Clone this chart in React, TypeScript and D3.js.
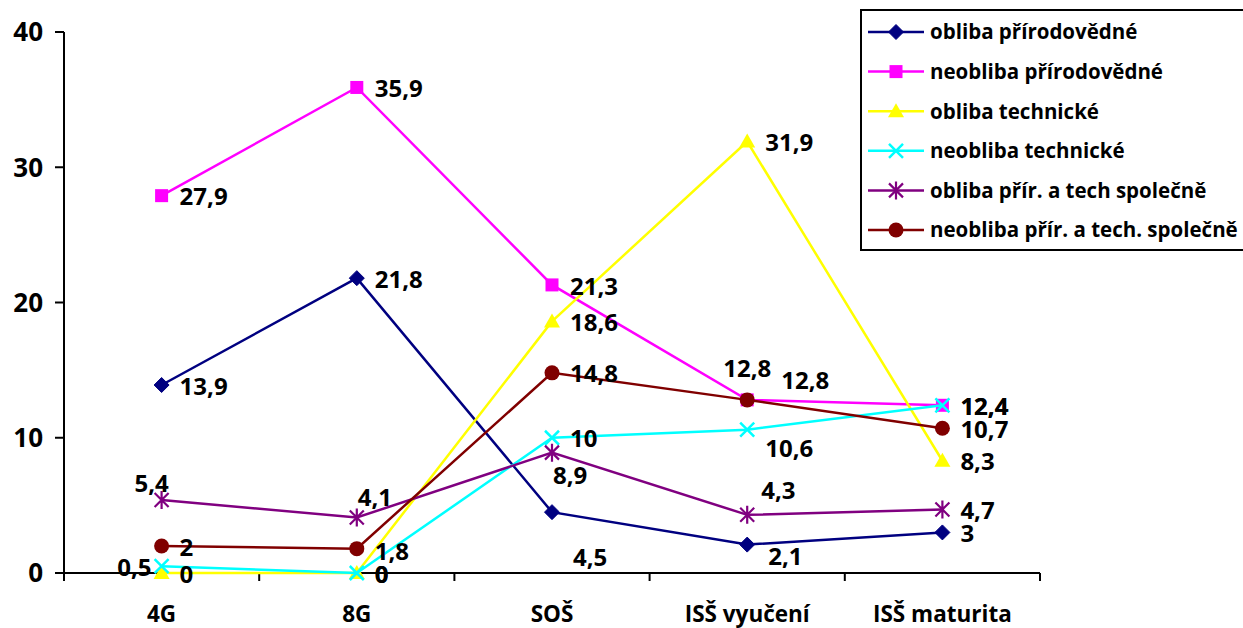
import React from "react";
import * as d3 from "d3";

const categories = ["4G", "8G", "SOŠ", "ISŠ vyučení", "ISŠ maturita"];
const yTicks = [0, 10, 20, 30, 40];

const seriesNames = [
  "obliba přírodovědné",
  "neobliba přírodovědné",
  "obliba technické",
  "neobliba technické",
  "obliba přír. a tech společně",
  "neobliba přír. a tech. společně",
];
const oblibaPrir = [13.9, 21.8, 4.5, 2.1, 3];
const neoblibaPrir = [27.9, 35.9, 21.3, 12.8, 12.4];
const oblibaTech = [0, 0, 18.6, 31.9, 8.3];
const neoblibaTech = [0.5, 0, 10, 10.6, 12.4];
const oblibaSpol = [5.4, 4.1, 8.9, 4.3, 4.7];
const neoblibaSpol = [2, 1.8, 14.8, 12.8, 10.7];

const seriesValues = [oblibaPrir, neoblibaPrir, oblibaTech, neoblibaTech, oblibaSpol, neoblibaSpol];
const colors = ["#000080", "#FF00FF", "#FFFF00", "#00FFFF", "#800080", "#800000"];
const markers = ["diamond", "square", "triangle", "x", "star", "circle"];

// label offsets [dx, dy, anchor] per series / point (style only)
type Off = [number, number, string];
const R: Off = [18, 1, "start"];
const labelOffsets: Off[][] = [
  [R, R, [21, 45, "start"], [21, 12, "start"], R],
  [R, R, R, [0, -32, "middle"], R],
  [R, R, R, R, R],
  [[-10, 1, "end"], R, R, [18, 19, "start"], R],
  [[-10, -17, "middle"], [1, -20, "start"], [1, 23, "start"], [14, -24, "start"], R],
  [R, [18, 3, "start"], R, [34, -20, "start"], R],
];

const FONT = "'Open Sans', 'Noto Sans', sans-serif";

function Marker({ type, x, y, color }: { type: string; x: number; y: number; color: string }) {
  switch (type) {
    case "diamond":
      return <path d={`M${x},${y - 7.5}L${x + 7.5},${y}L${x},${y + 7.5}L${x - 7.5},${y}Z`} fill={color} stroke={color} />;
    case "square":
      return <rect x={x - 6.5} y={y - 6.5} width={13} height={13} fill={color} />;
    case "triangle":
      return <path d={`M${x},${y - 8}L${x + 8},${y + 6}L${x - 8},${y + 6}Z`} fill={color} />;
    case "x":
      return (
        <path d={`M${x - 7},${y - 7}L${x + 7},${y + 7}M${x - 7},${y + 7}L${x + 7},${y - 7}`} stroke={color} strokeWidth={2.5} />
      );
    case "star":
      return (
        <path
          d={`M${x - 7},${y - 7}L${x + 7},${y + 7}M${x - 7},${y + 7}L${x + 7},${y - 7}M${x},${y - 9}L${x},${y + 9}`}
          stroke={color}
          strokeWidth={2.2}
        />
      );
    default:
      return <circle cx={x} cy={y} r={7.5} fill={color} />;
  }
}

export default function App() {
  const W = 1243;
  const H = 628;
  const x = d3.scaleBand<string>().domain(categories).range([64, 1040]);
  const y = d3.scaleLinear().domain([0, 40]).range([573, 32]);
  const cx = (c: string) => (x(c) as number) + x.bandwidth() / 2;
  const line = d3
    .line<number>()
    .x((_, i) => cx(categories[i]))
    .y((v) => y(v));

  const boundaries = categories.map((c) => x(c) as number).concat([1040]);

  return (
    <svg width={W} height={H} style={{ position: "absolute", left: 0, top: 0, background: "#fff" }} fontFamily={FONT}>
      <rect width={W} height={H} fill="#fff" />
      {/* axes */}
      <line x1={64} y1={y(40)} x2={64} y2={y(0)} stroke="#000" strokeWidth={2} />
      <line x1={64} y1={y(0)} x2={1040} y2={y(0)} stroke="#000" strokeWidth={2} />
      {yTicks.map((t) => (
        <g key={t}>
          <line x1={55} x2={64} y1={y(t)} y2={y(t)} stroke="#000" strokeWidth={2} />
          <text x={43} y={y(t)} dy="0.36em" textAnchor="end" fontSize={26} fontWeight="bold">
            {t}
          </text>
        </g>
      ))}
      {boundaries.map((b, i) => (
        <line key={i} x1={b} x2={b} y1={y(0)} y2={y(0) + 8} stroke="#000" strokeWidth={2} />
      ))}
      {categories.map((c) => (
        <text key={c} x={cx(c)} y={614} dy="0.36em" textAnchor="middle" fontSize={22.5} fontWeight="bold">
          {c}
        </text>
      ))}
      {/* series */}
      {seriesValues.map((vals, si) => (
        <g key={si}>
          <path d={line(vals) || ""} fill="none" stroke={colors[si]} strokeWidth={2.5} />
          {vals.map((v, i) => (
            <Marker key={i} type={markers[si]} x={cx(categories[i])} y={y(v)} color={colors[si]} />
          ))}
        </g>
      ))}
      {/* labels */}
      {seriesValues.map((vals, si) =>
        vals.map((v, i) => {
          const [dx, dy, anchor] = labelOffsets[si][i];
          return (
            <text
              key={`${si}-${i}`}
              x={cx(categories[i]) + dx}
              y={y(v) + dy}
              dy="0.36em"
              textAnchor={anchor as any}
              fontSize={24}
              fontWeight="bold"
            >
              {String(v).replace(".", ",")}
            </text>
          );
        })
      )}
      {/* legend */}
      <rect x={861} y={10} width={400} height={240} fill="#fff" stroke="#000" strokeWidth={2} />
      {seriesNames.map((n, i) => {
        const ly = 32 + i * 39.6;
        return (
          <g key={n}>
            <line x1={868} x2={924} y1={ly} y2={ly} stroke={colors[i]} strokeWidth={2.5} />
            <Marker type={markers[i]} x={896} y={ly} color={colors[i]} />
            <text x={930} y={ly} dy="0.36em" fontSize={20.5} fontWeight="bold">
              {n}
            </text>
          </g>
        );
      })}
    </svg>
  );
}
